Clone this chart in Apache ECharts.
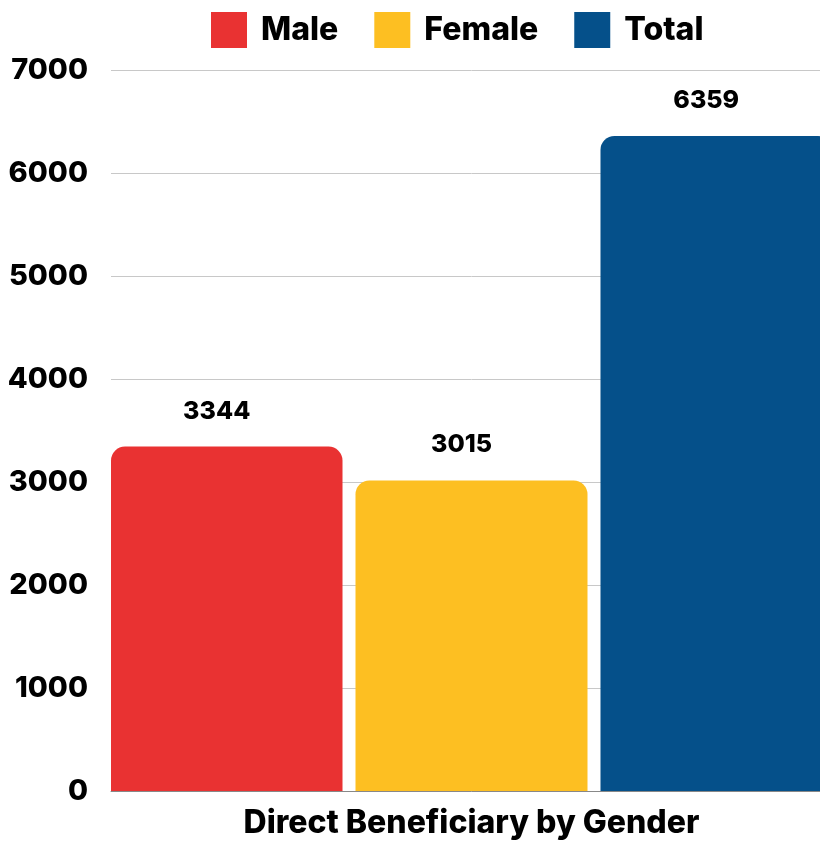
<!DOCTYPE html>
<html>
<head>
<meta charset="utf-8">
<script src="https://cdn.jsdelivr.net/npm/echarts@6/dist/echarts.min.js"></script>
<style>
  html, body { margin: 0; padding: 0; background: #fff; overflow: hidden; }
  #chart { width: 832px; height: 841px; }
</style>
</head>
<body>
<div id="chart"></div>
<script>
const categories = ["Direct Beneficiary by Gender"];
const seriesNames = ["Male", "Female", "Total"];
const maleValues = [3344];
const femaleValues = [3015];
const totalValues = [6359];
const colors = ["#E93232", "#FDBF22", "#05508A"];

const font = "Inter";
const chart = echarts.init(document.getElementById("chart"));

const makeSeries = (name, data, color) => ({
  name: name,
  type: "bar",
  data: data,
  barWidth: 232,
  barGap: "5.6%",
  itemStyle: { color: color, borderRadius: [14, 14, 0, 0] },
  label: {
    show: true,
    position: "top",
    distance: 23,
    offset: [-10, 0],
    color: "#000",
    fontFamily: font,
    fontWeight: 800,
    fontSize: 25
  }
});

const option = {
  animation: false,
  color: colors,
  legend: {
    top: 7,
    left: 206,
    itemWidth: 36,
    itemHeight: 36,
    itemGap: 36,
    icon: "rect",
    textStyle: { fontFamily: font, fontWeight: 800, fontSize: 32, color: "#000", padding: [0, 0, 0, 9] }
  },
  grid: { left: 111, right: 0, top: 70, bottom: 50 },
  xAxis: {
    type: "category",
    data: categories,
    axisTick: { show: false },
    axisLine: { lineStyle: { color: "#888", width: 1 } },
    axisLabel: { margin: 16, color: "#000", fontFamily: font, fontWeight: 800, fontSize: 32 }
  },
  yAxis: {
    type: "value",
    min: 0,
    max: 7000,
    interval: 1000,
    axisLine: { show: false },
    axisTick: { show: false },
    splitLine: { lineStyle: { color: "#c8c8c8", width: 1 } },
    axisLabel: {
      margin: 23, color: "#000", fontFamily: font, fontWeight: 800, fontSize: 29,
      formatter: (v) => String(v)
    }
  },
  series: [
    makeSeries(seriesNames[0], maleValues, colors[0]),
    makeSeries(seriesNames[1], femaleValues, colors[1]),
    makeSeries(seriesNames[2], totalValues, colors[2])
  ]
};
chart.setOption(option);
</script>
</body>
</html>
